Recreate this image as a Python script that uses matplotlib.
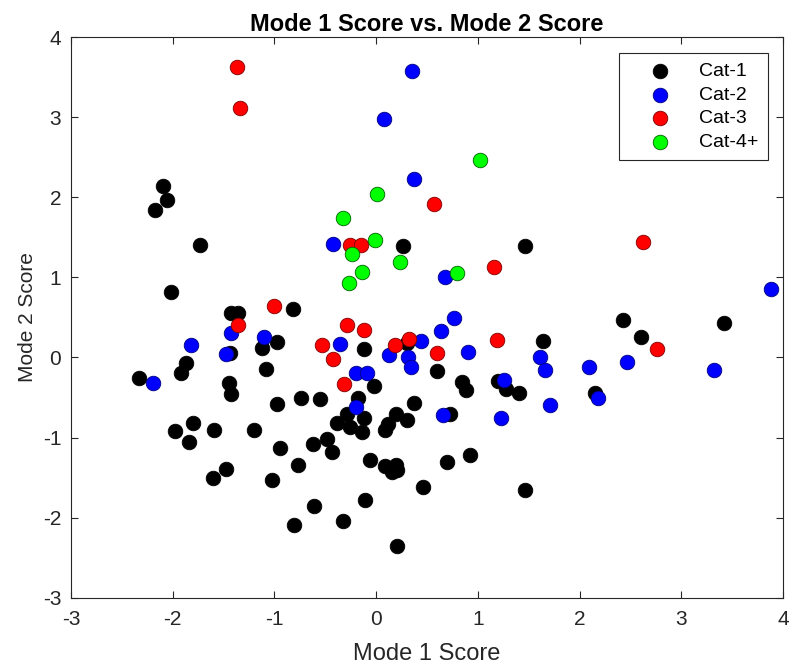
import matplotlib.pyplot as plt

plt.rcParams['font.family'] = ['Liberation Sans', 'DejaVu Sans']
plt.rcParams['axes.unicode_minus'] = False

# mode scores per category (x = mode 1, y = mode 2)
cat1_x = [-2.10, -2.06, -2.17, -1.73, -2.02, -1.43, -1.355, -0.82, -0.975, -1.12, -1.44, -1.87,
          -1.915, -2.33, -1.08, -1.45, -1.43, -0.97, -0.74, -0.55, -1.80, -1.98, -1.84, -1.59,
          -1.20, -0.945, -0.62, -0.77, -1.48, -1.60, -1.02, -0.61, -0.81,
          0.26, 1.46, 0.30, 1.64, -0.12, 0.60, -0.02, 0.845, 0.88, 1.195, 1.28, 1.40, -0.175,
          0.375, 0.73, -0.29, -0.12, -0.38, -0.26, -0.135, 0.20, 0.30, 0.12, 0.09, -0.48,
          -0.43, -0.06, 0.085, 0.196, 0.16, 0.21, 0.70, 0.92, 0.465, 1.46, -0.11, -0.33, 0.21,
          2.43, 3.42, 2.60, 2.15]
cat1_y = [2.14, 1.97, 1.84, 1.41, 0.82, 0.56, 0.56, 0.60, 0.19, 0.12, 0.06, -0.07,
          -0.19, -0.25, -0.14, -0.32, -0.45, -0.58, -0.50, -0.52, -0.82, -0.92, -1.05, -0.90,
          -0.90, -1.13, -1.08, -1.34, -1.39, -1.50, -1.53, -1.855, -2.09,
          1.39, 1.39, 0.18, 0.205, 0.10, -0.17, -0.35, -0.30, -0.41, -0.29, -0.39, -0.44, -0.51,
          -0.57, -0.71, -0.71, -0.75, -0.82, -0.87, -0.935, -0.70, -0.78, -0.835, -0.90, -1.02,
          -1.18, -1.285, -1.36, -1.34, -1.43, -1.41, -1.31, -1.22, -1.62, -1.65, -1.78, -2.04, -2.35,
          0.47, 0.43, 0.26, -0.44]

cat2_x = [0.35, 0.08, 0.37, -0.42, 0.68, 0.77, 0.635, -0.355, 0.44, 0.13, 0.31, 0.90, 1.61,
          0.34, 1.66, -0.195, -0.09, 1.26, 1.71, -0.20, 0.66, 1.23, -1.43, -1.82, -1.105,
          -1.48, -2.19, 3.88, 2.47, 2.09, 3.32, 2.18]
cat2_y = [3.57, 2.98, 2.23, 1.415, 1.01, 0.49, 0.33, 0.17, 0.21, 0.03, 0.01, 0.07, 0.0,
          -0.12, -0.16, -0.19, -0.19, -0.28, -0.59, -0.62, -0.72, -0.75, 0.30, 0.15, 0.26,
          0.04, -0.32, 0.85, -0.06, -0.12, -0.15, -0.51]

cat3_x = [-1.37, -1.34, 0.566, -0.257, -0.145, 1.156, -1.0, -1.36, -0.29, -0.12, -0.53, 0.19,
          0.32, 1.19, -0.42, 0.595, -0.32, 2.62, 2.765]
cat3_y = [3.62, 3.11, 1.92, 1.41, 1.41, 1.13, 0.64, 0.41, 0.41, 0.34, 0.15, 0.15,
          0.23, 0.22, -0.015, 0.06, -0.33, 1.44, 0.10]

cat4_x = [1.02, 0.009, -0.325, -0.01, -0.24, 0.23, -0.14, -0.27, 0.80]
cat4_y = [2.46, 2.04, 1.74, 1.47, 1.29, 1.19, 1.07, 0.925, 1.06]

fig = plt.figure(figsize=(7.92, 6.68), dpi=100)
ax = fig.add_axes([0.0896, 0.105, 0.899, 0.8396])

ax.scatter(cat1_x, cat1_y, s=110, c='k', edgecolors='k', linewidths=0.6, label='Cat-1', zorder=2)
ax.scatter(cat2_x, cat2_y, s=110, c='#0000ff', edgecolors='#000080', linewidths=0.6, label='Cat-2', zorder=3)
ax.scatter(cat3_x, cat3_y, s=110, c='#ff0000', edgecolors='#800000', linewidths=0.6, label='Cat-3', zorder=4)
ax.scatter(cat4_x, cat4_y, s=110, c='#00ff00', edgecolors='#006000', linewidths=0.6, label='Cat-4+', zorder=5)

ax.set_xlim(-3, 4)
ax.set_ylim(-3, 4)
ax.set_xticks(range(-3, 5))
ax.set_yticks(range(-3, 5))

grey = '#262626'
for sp in ax.spines.values():
    sp.set_color(grey)
    sp.set_linewidth(0.8)
ax.tick_params(direction='in', top=True, right=True, length=5, width=0.8,
               colors=grey, labelsize=15, pad=7)
ax.tick_params(axis='x', pad=9)

ax.set_title('Mode 1 Score vs. Mode 2 Score', fontsize=17, fontweight='bold', pad=4)
ax.set_xlabel('Mode 1 Score', fontsize=17, color=grey, labelpad=10)
ax.set_ylabel('Mode 2 Score', fontsize=15, color=grey, labelpad=4)

leg = ax.legend(loc='upper right', bbox_to_anchor=(0.979, 0.9715), fontsize=14,
                fancybox=False, framealpha=1, edgecolor=grey, borderpad=0.5,
                handlelength=3.2, handletextpad=0.4, labelspacing=0.3, borderaxespad=0)
leg.get_frame().set_linewidth(0.8)

fig.savefig('out.png', dpi=100)
